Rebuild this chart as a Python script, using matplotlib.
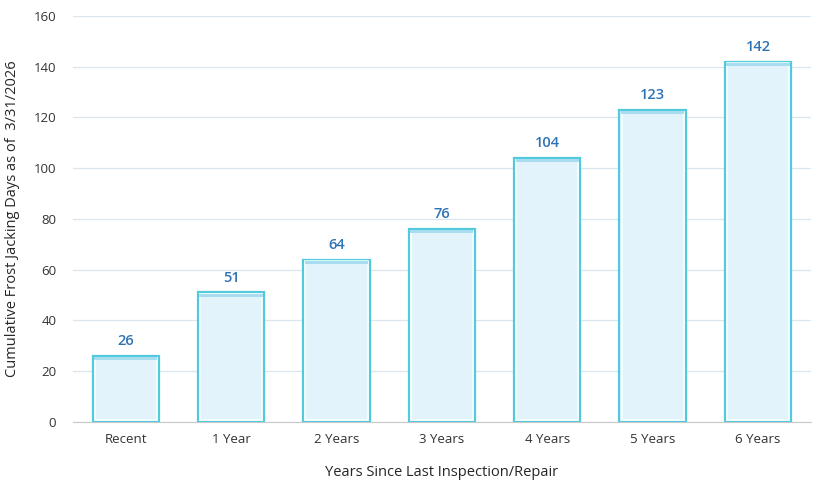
import matplotlib
matplotlib.use('Agg')
import matplotlib.pyplot as plt

# 数据
categories = ['Recent', '1 Year', '2 Years', '3 Years', '4 Years', '5 Years', '6 Years']
days = [26, 51, 64, 76, 104, 123, 142]
y_ticks = [0, 20, 40, 60, 80, 100, 120, 140, 160]

plt.rcParams['font.family'] = ['Open Sans', 'DejaVu Sans']

fig = plt.figure(figsize=(8.16, 4.86), dpi=100)
ax = fig.add_axes([0.0895, 0.132, 0.904, 0.835])

x = range(len(categories))
# 外框
bars = ax.bar(x, days, width=0.63, color='#e2f3fb', edgecolor='#52c9dc', linewidth=1.6, zorder=3)
# 内部高光
ax.bar(x, [d - 1.4 for d in days], bottom=0.7, width=0.59, color='none',
       edgecolor='#f4feff', linewidth=1.2, zorder=4)
# 顶部阴影条
ax.bar(x, [1.2] * len(days), bottom=[d - 1.6 for d in days], width=0.6,
       color='#a8dcef', linewidth=0, zorder=4)

# 顶部标签
for bar, v in zip(bars, days):
    ax.text(bar.get_x() + bar.get_width() / 2, v + 3, str(v), ha='center', va='bottom',
            fontsize=10.5, color='#2e74b5', fontweight='semibold', zorder=5)

ax.set_ylim(0, 160)
ax.set_xlim(-0.5, len(categories) - 0.5)
ax.set_yticks(y_ticks)
ax.set_xticks(list(x))
ax.set_xticklabels(categories)
ax.grid(axis='y', color='#d9e6f0', linewidth=0.9, zorder=0)
for s in ['top', 'right', 'left']:
    ax.spines[s].set_visible(False)
ax.spines['bottom'].set_color('#c8c8c8')
ax.tick_params(axis='both', length=0, labelsize=9.5, colors='#333333', pad=8)
ax.tick_params(axis='y', pad=12)

ax.set_xlabel('Years Since Last Inspection/Repair', fontsize=10.5, color='#262626', labelpad=14)
ax.set_ylabel('Cumulative Frost Jacking Days as of  3/31/2026', fontsize=10.5, color='#262626', labelpad=10)

plt.savefig('out.png', dpi=100)
